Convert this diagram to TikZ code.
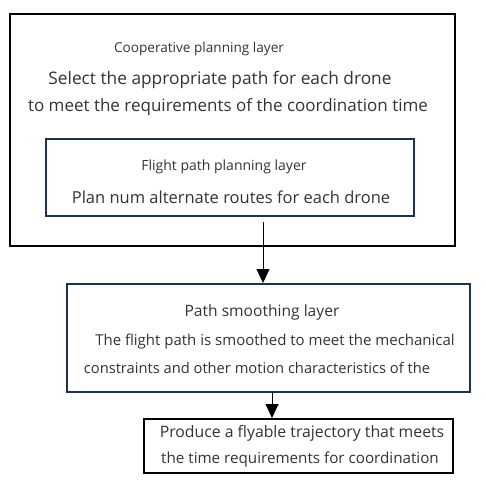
\documentclass[tikz,border=0pt]{standalone}
\usepackage{fontspec}
\setmainfont{Open Sans}
\usetikzlibrary{arrows.meta}
\definecolor{navy}{HTML}{1F3050}
\definecolor{txt}{HTML}{333333}
\tikzset{
  every node/.style={inner sep=0pt, text=txt},
  fs/.style={font=\fontsize{#1}{#1}\selectfont},
  arr/.style={-{Triangle[length=14pt,width=13pt]}, line width=0.9pt, black},
}
\begin{document}
\begin{tikzpicture}[x=1pt,y=-1pt]
\useasboundingbox (0,0) rectangle (485,494);
% boxes
\draw[line width=2.2pt, black] (10,14) rectangle (455,246);
\node[draw=navy, line width=1.8pt, minimum width=368pt, minimum height=77pt, anchor=north west] (fp) at (45,138) {};
\node[draw=navy, line width=1.5pt, minimum width=403pt, minimum height=108pt, anchor=north west] (ps) at (66,283) {};
\node[draw=black, line width=1.8pt, minimum width=309pt, minimum height=54pt, anchor=north west] (pr) at (143,418) {};
% texts
\node[fs=13.6] (t1) at (199,49) {Cooperative planning layer};
\node[fs=17.3] (t2) at (220,80) {Select the appropriate path for each drone};
\node[fs=17] (t3) at (228,107) {to meet the requirements of the coordination time};
\node[fs=14] (t4) at (224,167) {Flight path planning layer};
\node[fs=16.5] (t5) at (231,197) {Plan num alternate routes for each drone};
\node[fs=15.6] (t6) at (262,312) {Path smoothing layer};
\node[fs=15] (t7) at (275,342) {The flight path is smoothed to meet the mechanical};
\node[fs=14.7] (t8) at (257,368) {constraints and other motion characteristics of the};
\node[fs=15.8] (t9) at (302,433) {Produce a flyable trajectory that meets};
\node[fs=15.2] (t10) at (300,460) {the time requirements for coordination};
% arrows
\coordinate (a1) at (263,222);
\draw[arr] (a1) -- (a1 |- ps.north);
\coordinate (a2) at (272,400);
\draw[arr] (ps.south -| a2) -- (pr.north -| a2);
\end{tikzpicture}
\end{document}
